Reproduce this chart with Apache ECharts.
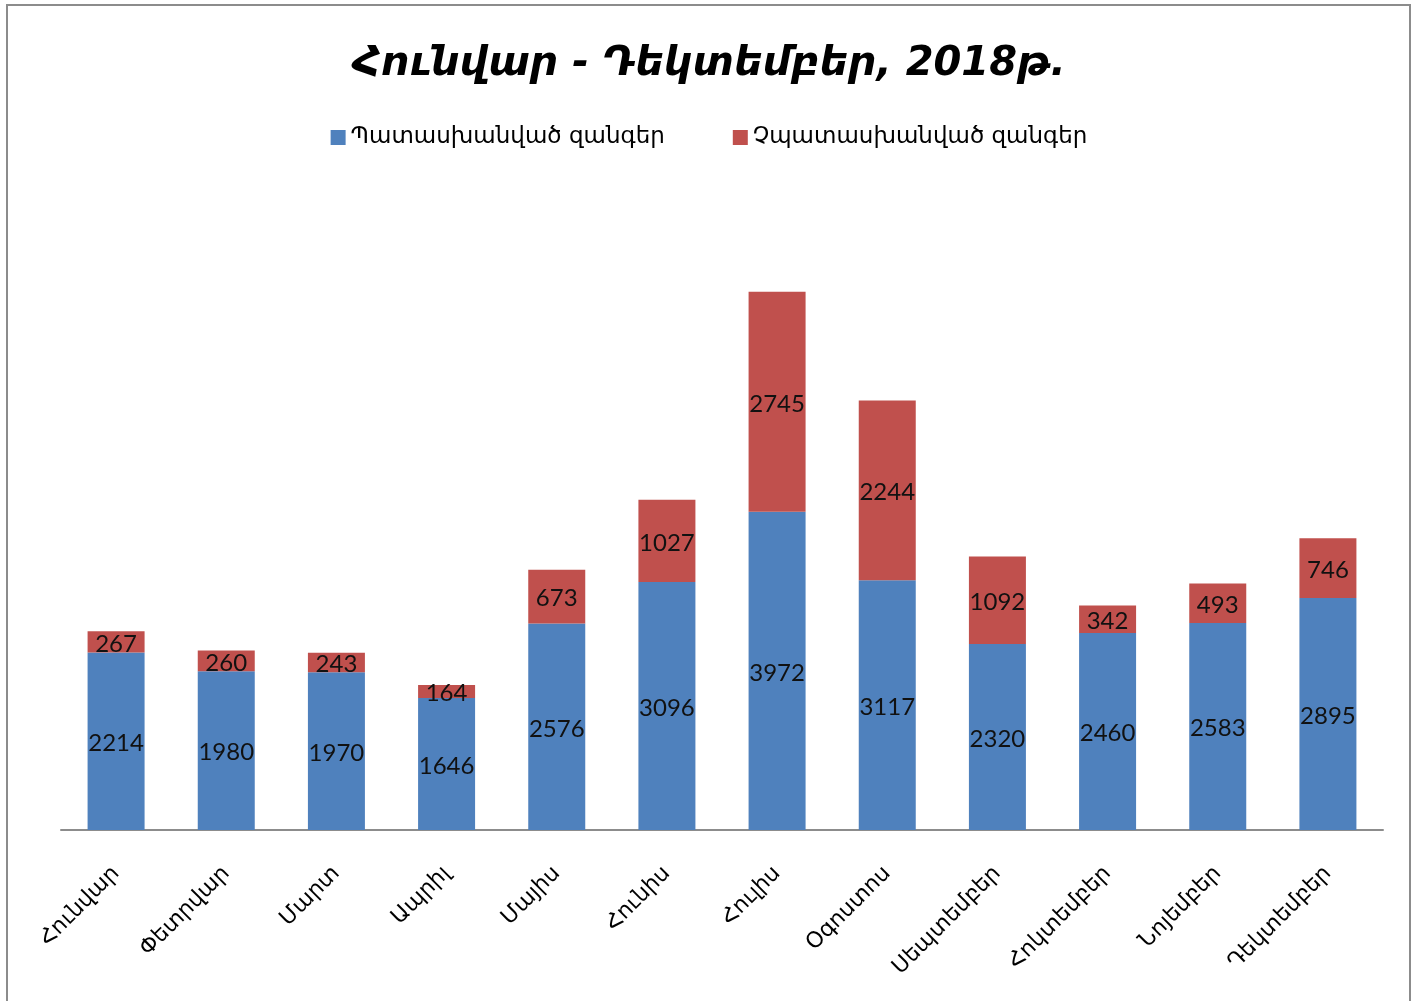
<!DOCTYPE html>
<html>
<head>
<meta charset="utf-8">
<script src="https://cdn.jsdelivr.net/npm/echarts@6/dist/echarts.min.js"></script>
<style>
html,body{margin:0;padding:0;background:#fff;}
#frame{position:absolute;left:6px;top:4px;width:1405px;height:1010px;border:2px solid #8c8c8c;box-sizing:border-box;}
#chart{position:absolute;left:0;top:0;width:1418px;height:1001px;}
</style>
</head>
<body>
<div id="frame"></div>
<div id="chart"></div>
<script>
const titleText = 'Հունվար - Դեկտեմբեր, 2018թ.';
const months = ['Հունվար','Փետրվար','Մարտ','Ապրիլ','Մայիս','Հունիս','Հուլիս','Օգոստոս','Սեպտեմբեր','Հոկտեմբեր','Նոյեմբեր','Դեկտեմբեր'];
const answeredName = 'Պատասխանված զանգեր';
const unansweredName = 'Չպատասխանված զանգեր';
const answered = [2214,1980,1970,1646,2576,3096,3972,3117,2320,2460,2583,2895];
const unanswered = [267,260,243,164,673,1027,2745,2244,1092,342,493,746];

const chart = echarts.init(document.getElementById('chart'), null, {renderer:'canvas'});
const labelFont = {color:'#111', fontSize:24, fontFamily:'Lato, "DejaVu Sans", sans-serif', offset:[0,2]};
chart.setOption({
  animation:false,
  backgroundColor:'transparent',
  title:{
    text:titleText, left:'center', top:40,
    textStyle:{fontSize:40, fontWeight:'bold', fontStyle:'italic', color:'#000', fontFamily:'"DejaVu Sans", sans-serif'}
  },
  legend:{
    top:121, left:'center', itemWidth:15, itemHeight:15, itemGap:68, icon:'rect',
    textStyle:{fontSize:23, color:'#000', fontFamily:'"DejaVu Sans", sans-serif'}
  },
  grid:{left:61, right:35, top:189, bottom:171, containLabel:false},
  xAxis:{
    type:'category', data:months,
    axisLine:{lineStyle:{color:'#8c8c8c', width:2}},
    axisTick:{show:false},
    axisLabel:{rotate:45, fontSize:22, color:'#000', margin:40, interval:0, fontFamily:'"DejaVu Sans", sans-serif'}
  },
  yAxis:{type:'value', min:0, max:8000, show:false, splitLine:{show:false}},
  series:[
    {name:answeredName, type:'bar', stack:'t', data:answered, barWidth:57,
     itemStyle:{color:'#4F81BD'}, label:{show:true, position:'inside', ...labelFont}},
    {name:unansweredName, type:'bar', stack:'t', data:unanswered, barWidth:57,
     itemStyle:{color:'#C0504D'}, label:{show:true, position:'inside', ...labelFont}}
  ]
});
</script>
</body>
</html>
